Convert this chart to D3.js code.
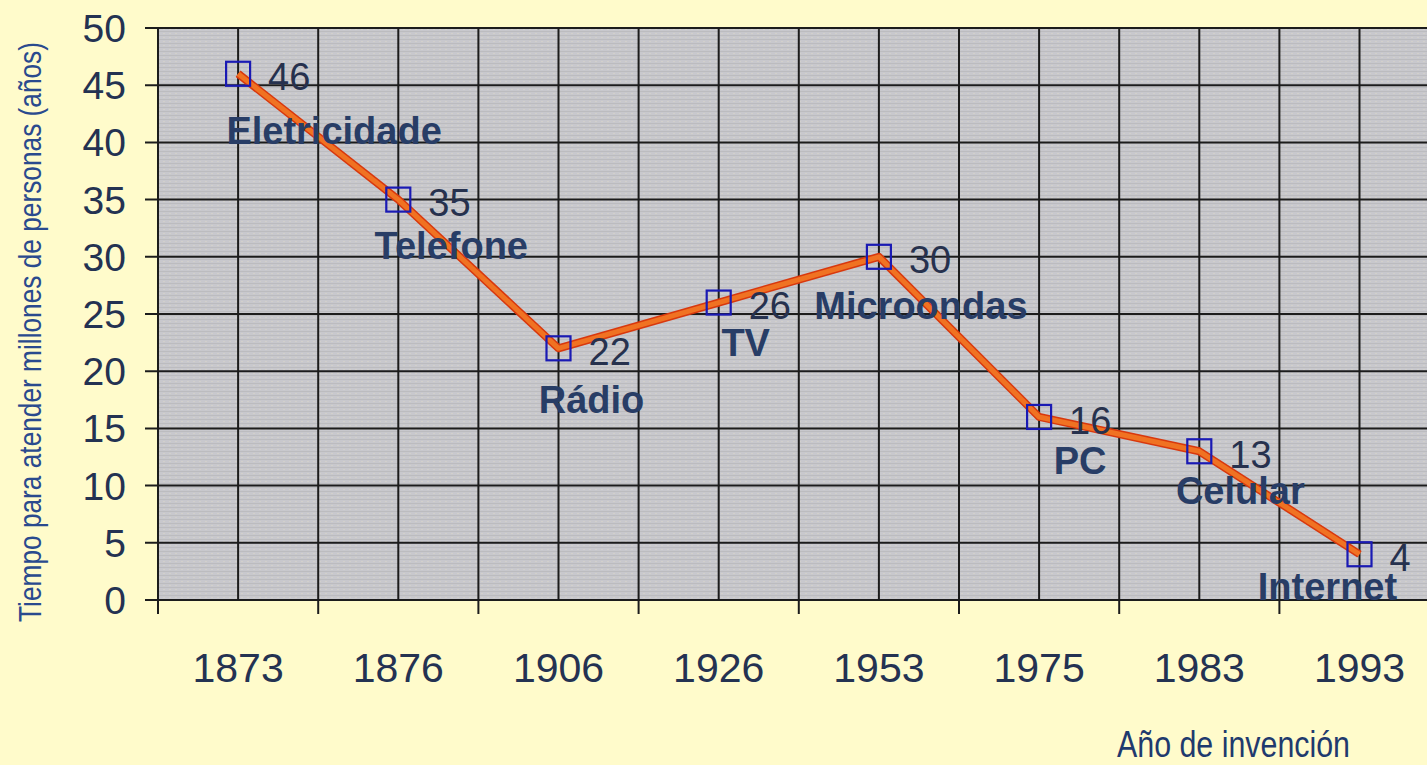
<!DOCTYPE html>
<html>
<head>
<style>
  body {
    margin: 0px;
    background-color: rgb(255, 251, 203);
  }
  svg { display: block; }
</style>
<script src="https://cdn.jsdelivr.net/npm/d3@7"></script>
</head>
<body>
<svg></svg>
<script>
const years = ["1873", "1876", "1906", "1926", "1953", "1975", "1983", "1993"];
const inventions = ["Eletricidade", "Telefone", "Rádio", "TV", "Microondas", "PC", "Celular", "Internet"];
const yearsToReach = [46, 35, 22, 26, 30, 16, 13, 4];
const yTicks = [0, 5, 10, 15, 20, 25, 30, 35, 40, 45, 50];

// where each invention name sits relative to its point (px)
const nameOffsets = [[96, 70], [53, 59], [33, 65], [27, 53], [42, 62], [41, 57], [41, 53], [-32, 46]];

const width = 1427, height = 765;
const plotLeft = 158, plotTop = 28, plotBottom = 600, band = 160.2;

const svg = d3.select("svg").attr("width", width).attr("height", height);

const x = d3.scaleBand().domain(years).range([plotLeft, plotLeft + band * years.length]).padding(0);
const y = d3.scaleLinear().domain([0, 50]).range([plotBottom, plotTop]);

// textured plot background
const defs = svg.append("defs");
const pat = defs.append("pattern").attr("id", "tex")
    .attr("width", 6).attr("height", 4).attr("patternUnits", "userSpaceOnUse");
pat.append("rect").attr("width", 6).attr("height", 4).attr("fill", "#c8c8cd");
pat.append("rect").attr("y", 3).attr("width", 6).attr("height", 1).attr("fill", "#bcbcbf");
pat.append("rect").attr("x", 1).attr("y", 1).attr("width", 2).attr("height", 1).attr("fill", "#d2d0cb");

svg.append("rect")
    .attr("x", plotLeft).attr("y", plotTop)
    .attr("width", width - plotLeft).attr("height", plotBottom - plotTop)
    .attr("fill", "url(#tex)");

// grid
const grid = svg.append("g").attr("stroke", "#1c1c1c").attr("stroke-width", 2);
grid.selectAll(".h").data(yTicks).join("line")
    .attr("x1", plotLeft - 13).attr("x2", width)
    .attr("y1", d => y(d)).attr("y2", d => y(d));

const vLines = [];
years.forEach(d => {
  vLines.push(x(d));
  vLines.push(x(d) + x.bandwidth() / 2);
});
vLines.push(x.range()[1]);
grid.selectAll(".v").data(vLines).join("line")
    .attr("x1", d => d).attr("x2", d => d)
    .attr("y1", plotTop).attr("y2", plotBottom);

// boundary ticks below the axis
grid.selectAll(".t").data(vLines.filter((d, i) => i % 2 == 0)).join("line")
    .attr("x1", d => d).attr("x2", d => d)
    .attr("y1", plotBottom).attr("y2", plotBottom + 14);

// y tick labels
svg.append("g").selectAll("text").data(yTicks).join("text")
    .attr("x", 126).attr("y", d => y(d))
    .attr("dy", "0.36em")
    .attr("text-anchor", "end")
    .attr("font-family", "Liberation Sans, Arial, sans-serif")
    .attr("font-size", 39)
    .attr("fill", "#243252")
    .text(d => d);

// x tick labels
svg.append("g").selectAll("text").data(years).join("text")
    .attr("x", d => x(d) + x.bandwidth() / 2).attr("y", 682)
    .attr("text-anchor", "middle")
    .attr("font-family", "Liberation Sans, Arial, sans-serif")
    .attr("font-size", 41)
    .attr("fill", "#243252")
    .text(d => d);

// line
const cx = (d, i) => x(years[i]) + x.bandwidth() / 2;
const line = d3.line().x(cx).y(d => y(d));

svg.append("path").datum(yearsToReach)
    .attr("d", line).attr("fill", "none")
    .attr("stroke", "#d8380e").attr("stroke-width", 8)
    .attr("stroke-linejoin", "round");
svg.append("path").datum(yearsToReach)
    .attr("d", line).attr("fill", "none")
    .attr("stroke", "#f07222").attr("stroke-width", 5)
    .attr("stroke-linejoin", "round");

// markers
svg.append("g").selectAll("rect").data(yearsToReach).join("rect")
    .attr("x", (d, i) => cx(d, i) - 12).attr("y", d => y(d) - 12)
    .attr("width", 24).attr("height", 24)
    .attr("fill", "none").attr("stroke", "#1a1ab4").attr("stroke-width", 2.2);

// value labels
svg.append("g").selectAll("text").data(yearsToReach).join("text")
    .attr("x", (d, i) => cx(d, i) + 30).attr("y", d => y(d) + 3)
    .attr("dy", "0.36em")
    .attr("font-family", "Liberation Sans, Arial, sans-serif")
    .attr("font-size", 38)
    .attr("fill", "#26314e")
    .text(d => d);

// invention names
svg.append("g").selectAll("text").data(yearsToReach).join("text")
    .attr("x", (d, i) => cx(d, i) + nameOffsets[i][0])
    .attr("y", (d, i) => y(d) + nameOffsets[i][1])
    .attr("text-anchor", "middle")
    .attr("font-family", "Liberation Sans, Arial, sans-serif")
    .attr("font-weight", "bold")
    .attr("font-size", 38)
    .attr("fill", "#283d66")
    .text((d, i) => inventions[i]);

// axis titles
svg.append("text")
    .attr("transform", "translate(41," + ((42 + 622) / 2) + ") rotate(-90)")
    .attr("text-anchor", "middle")
    .attr("font-family", "Liberation Sans Narrow, Arial Narrow, Liberation Sans, sans-serif")
    .attr("font-size", 32)
    .attr("fill", "#2a4a8e")
    .attr("textLength", 580).attr("lengthAdjust", "spacingAndGlyphs")
    .text("Tiempo para atender millones de personas (años)");

svg.append("text")
    .attr("x", 1117).attr("y", 757)
    .attr("font-family", "Liberation Sans Narrow, Arial Narrow, Liberation Sans, sans-serif")
    .attr("font-size", 36)
    .attr("fill", "#1f3a6e")
    .attr("textLength", 233).attr("lengthAdjust", "spacingAndGlyphs")
    .text("Año de invención");
</script>
</body>
</html>
